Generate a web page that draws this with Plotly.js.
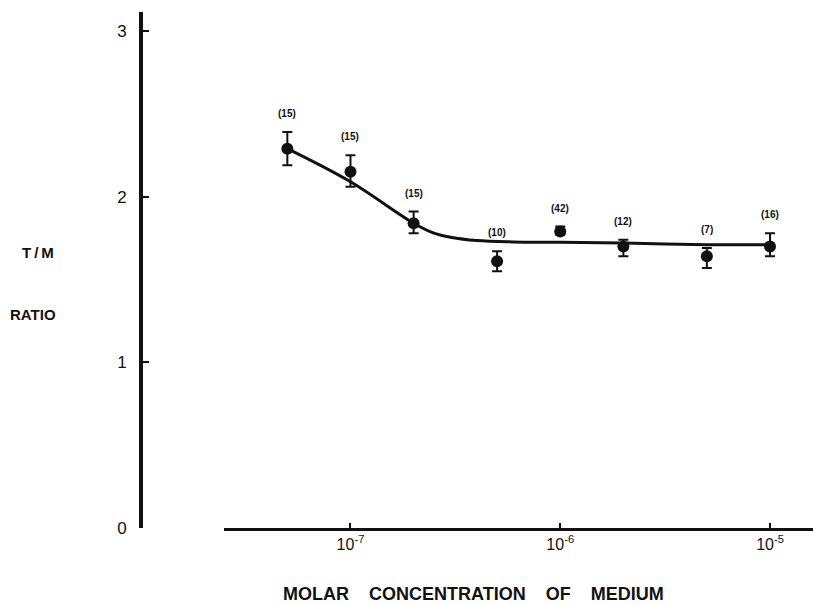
<!DOCTYPE html>
<html>
<head>
<meta charset="utf-8">
<script src="https://cdn.plot.ly/plotly-3.0.1.min.js"></script>
<style>html,body{margin:0;padding:0;background:#fff;}#chart{width:813px;height:605px;}</style>
</head>
<body>
<div id="chart"></div>
<script>
// Data
const concentration = [5e-8, 1e-7, 2e-7, 5e-7, 1e-6, 2e-6, 5e-6, 1e-5];
const ratio        = [2.29, 2.15, 1.84, 1.61, 1.79, 1.70, 1.64, 1.70];
const errUp        = [0.10, 0.10, 0.07, 0.06, 0.03, 0.04, 0.05, 0.08];
const errDown      = [0.10, 0.09, 0.06, 0.06, 0.02, 0.06, 0.07, 0.06];
const nLabels      = ['(15)', '(15)', '(15)', '(10)', '(42)', '(12)', '(7)', '(16)'];

const curveX = [5e-8, 1e-7, 2e-7, 2.5e-7, 3e-7, 4e-7, 6e-7, 1e-6, 2e-6, 5e-6, 1e-5];
const curveY = [2.29, 2.09, 1.84, 1.78, 1.755, 1.735, 1.727, 1.725, 1.72, 1.71, 1.71];

const xTickVals = [1e-7, 1e-6, 1e-5];
const xTickText = ['10<sup>-7</sup>', '10<sup>-6</sup>', '10<sup>-5</sup>'];
const yTickVals = [0, 1, 2, 3];
const yTickText = ['0', '1', '2', '3'];

const ink = '#111';
const fontFam = '"Liberation Sans", Arial, sans-serif';
const gap = '\u00a0\u00a0\u00a0\u00a0';

const traces = [
  {
    x: curveX, y: curveY, type: 'scatter', mode: 'lines',
    line: {color: ink, width: 3, shape: 'spline', smoothing: 1.0},
    hoverinfo: 'skip', showlegend: false
  },
  {
    x: concentration, y: ratio, type: 'scatter', mode: 'markers',
    marker: {color: ink, size: 12, symbol: 'circle'},
    error_y: {type: 'data', symmetric: false, array: errUp, arrayminus: errDown,
              color: ink, thickness: 2, width: 5},
    showlegend: false
  }
];

const annotations = nLabels.map((t, i) => ({
  x: Math.log10(concentration[i]), y: ratio[i] + errUp[i],
  xref: 'x', yref: 'y', text: '<b>' + t + '</b>', showarrow: false,
  yanchor: 'bottom', yshift: 11,
  font: {family: fontFam, size: 10, color: ink}
}));

annotations.push(
  {xref: 'paper', yref: 'paper', x: -0.1516, y: 0.533, text: '<b>T\u2009/\u2009M</b>', showarrow: false,
   xanchor: 'center', yanchor: 'middle', font: {family: fontFam, size: 15, color: ink}},
  {xref: 'paper', yref: 'paper', x: -0.159, y: 0.413, text: '<b>RATIO</b>', showarrow: false,
   xanchor: 'center', yanchor: 'middle', font: {family: fontFam, size: 15, color: ink}},
  {xref: 'paper', yref: 'paper', x: 0.4955, y: -0.127,
   text: '<b>MOLAR' + gap + 'CONCENTRATION' + gap + 'OF' + gap + 'MEDIUM</b>', showarrow: false,
   xanchor: 'center', yanchor: 'middle', font: {family: fontFam, size: 18, color: ink}}
);

const layout = {
  width: 813, height: 605,
  margin: {l: 140, r: 0, t: 12, b: 77, pad: 0},
  paper_bgcolor: '#fff', plot_bgcolor: '#fff',
  showlegend: false,
  xaxis: {
    type: 'log', range: [-7.603, -4.795], domain: [0.1248, 1],
    tickvals: xTickVals, ticktext: xTickText,
    ticks: 'inside', ticklen: 5, tickwidth: 2, tickcolor: ink,
    showline: true, linewidth: 3, linecolor: ink,
    showgrid: false, zeroline: false, anchor: 'y',
    tickfont: {family: fontFam, size: 16, color: ink}
  },
  yaxis: {
    range: [0, 3.115], anchor: 'free', position: 0,
    tickvals: yTickVals, ticktext: yTickText,
    ticks: 'inside', ticklen: 6, tickwidth: 2, tickcolor: ink,
    showline: true, linewidth: 3.5, linecolor: ink,
    showgrid: false, zeroline: false, ticklabelstandoff: 9,
    tickfont: {family: fontFam, size: 17, color: ink}
  },
  annotations: annotations
};

Plotly.newPlot('chart', traces, layout, {displayModeBar: false, staticPlot: true});
</script>
</body>
</html>
